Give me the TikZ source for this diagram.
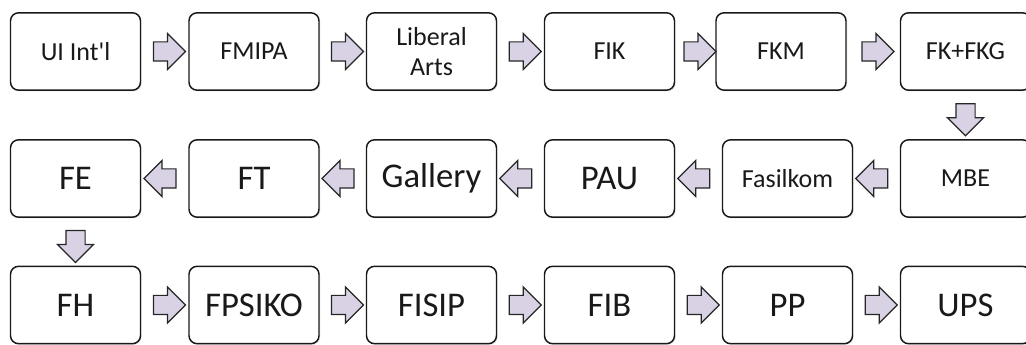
\documentclass[tikz,border=0pt]{standalone}
\usepackage{fontspec}
\setmainfont{Carlito}
\usetikzlibrary{shapes.arrows,shadows,calc}

\tikzset{
  box/.style={draw=black!90, line width=1.1pt, rounded corners=6pt, fill=white, text=black!90,
    minimum width=97.5pt, minimum height=58pt, inner sep=0pt, align=center,
    drop shadow={opacity=0.18, shadow xshift=1pt, shadow yshift=-1pt}},
  smalltxt/.style={font=\fontsize{19.5}{22.5}\selectfont},
  bigtxt/.style={font=\fontsize{26}{28}\selectfont},
  blockarr/.style={single arrow, draw=black!85, line width=0.9pt,
    fill={rgb, 255:red, 216; green, 210; blue, 228},
    minimum height=24pt, inner xsep=0pt, inner ysep=6.75pt,
    single arrow head extend=6.4pt, single arrow head indent=0pt},
}

\begin{document}
\begin{tikzpicture}[x=0.75pt,y=0.75pt,yscale=-1,xscale=1]
\clip (0,0) rectangle (1026,345);

%Boxes, first row
\node [box, smalltxt] (uiintl) at (75.5,51.5) {UI Int\textquotesingle l};
\node [box, smalltxt] (fmipa) at (254,51.5) {FMIPA};
\node [box, smalltxt] (liberal) at (431.5,51.5) {Liberal\\Arts};
\node [box, smalltxt] (fik) at (609.5,51.5) {FIK};
\node [box, smalltxt] (fkm) at (781,51.5) {FKM};
\node [box, smalltxt] (fkfkg) at (965.5,51.5) {FK+FKG};
%Boxes, second row
\node [box, bigtxt] (fe) at (75.5,178.5) {FE};
\node [box, bigtxt] (ft) at (254,178.5) {FT};
\node [box, bigtxt] (gallery) at (431.5,178.5) {Gallery};
\node [box, bigtxt] (pau) at (609.5,178.5) {PAU};
\node [box, smalltxt] (fasilkom) at (787.5,178.5) {Fasilkom};
\node [box, smalltxt] (mbe) at (965.5,178.5) {MBE};
%Boxes, third row
\node [box, bigtxt] (fh) at (75.5,305) {FH};
\node [box, bigtxt] (fpsiko) at (254,305) {FPSIKO};
\node [box, bigtxt] (fisip) at (431.5,305) {FISIP};
\node [box, bigtxt] (fib) at (609.5,305) {FIB};
\node [box, bigtxt] (pp) at (787.5,305) {PP};
\node [box, bigtxt] (ups) at (965.5,305) {UPS};

%Block arrows, first row
\node [blockarr] (a1) at ($(uiintl.east)!0.5!(fmipa.west)$) {};
\node [blockarr] (a2) at ($(fmipa.east)!0.5!(liberal.west)$) {};
\node [blockarr] (a3) at ($(liberal.east)!0.5!(fik.west)$) {};
\node [blockarr] (a4) at ($(fik.east)!0.5!(fkm.west)$) {};
\node [blockarr] (a5) at ($(fkm.east)!0.5!(fkfkg.west)$) {};
\node [blockarr, rotate=-90] (a6) at ($(fkfkg.south)!0.5!(mbe.north)$) {};
%Block arrows, second row
\node [blockarr, rotate=180] (a7) at ($(mbe.west)!0.5!(fasilkom.east)$) {};
\node [blockarr, rotate=180] (a8) at ($(fasilkom.west)!0.5!(pau.east)$) {};
\node [blockarr, rotate=180] (a9) at ($(pau.west)!0.5!(gallery.east)$) {};
\node [blockarr, rotate=180] (a10) at ($(gallery.west)!0.5!(ft.east)$) {};
\node [blockarr, rotate=180] (a11) at ($(ft.west)!0.5!(fe.east)$) {};
\node [blockarr, rotate=-90] (a12) at ($(fe.south)!0.5!(fh.north)$) {};
%Block arrows, third row
\node [blockarr] (a13) at ($(fh.east)!0.5!(fpsiko.west)$) {};
\node [blockarr] (a14) at ($(fpsiko.east)!0.5!(fisip.west)$) {};
\node [blockarr] (a15) at ($(fisip.east)!0.5!(fib.west)$) {};
\node [blockarr] (a16) at ($(fib.east)!0.5!(pp.west)$) {};
\node [blockarr] (a17) at ($(pp.east)!0.5!(ups.west)$) {};

\end{tikzpicture}
\end{document}
